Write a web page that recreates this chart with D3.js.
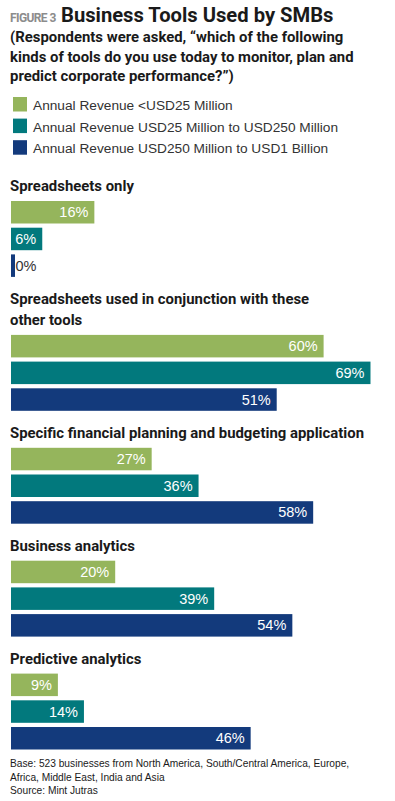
<!DOCTYPE html>
<html>
<head>
<meta charset="utf-8">
<script src="https://cdn.jsdelivr.net/npm/d3@7"></script>
<style>
  body { margin: 0; background: #fff; }
  svg { display: block; }
</style>
</head>
<body>
<div id="chart"></div>
<script>
// data
const categories = [
    ['Spreadsheets only'],
    ['Spreadsheets used in conjunction with these', 'other tools'],
    ['Specific financial planning and budgeting application'],
    ['Business analytics'],
    ['Predictive analytics']
];
const series = [
    'Annual Revenue <USD25 Million',
    'Annual Revenue USD25 Million to USD250 Million',
    'Annual Revenue USD250 Million to USD1 Billion'
];
const small = [16, 60, 27, 20, 9];
const mid = [6, 69, 36, 39, 14];
const large = [0, 51, 58, 54, 46];
const colors = ['#95b55c', '#02797d', '#133a7c'];
const notes = [
    'Base: 523 businesses from North America, South/Central America, Europe,',
    'Africa, Middle East, India and Asia',
    'Source: Mint Jutras'
];

const width = 395, height = 801;
const x0 = 11;
const bar_h = 22.5;
const bar_step = 26.7;
const line_h = 21;
const head_font = "Roboto, 'Liberation Sans', sans-serif";
const body_font = "'Liberation Sans', Arial, sans-serif";

const svg = d3.select('#chart').append('svg')
    .attr('width', width)
    .attr('height', height);

const x = d3.scaleLinear().domain([0, 100]).range([0, 521]);

// header
svg.append('text').text('FIGURE 3')
    .attr('x', 10).attr('y', 22)
    .style('font-family', head_font).style('font-weight', 700)
    .style('font-size', '12px').style('letter-spacing', '-0.6px')
    .attr('fill', '#8c8c8c');
svg.append('text').text('Business Tools Used by SMBs')
    .attr('x', 61).attr('y', 22)
    .style('font-family', head_font).style('font-weight', 700)
    .style('font-size', '20.2px').attr('fill', '#1a1a1a');

const subtitle = [
    '(Respondents were asked, \u201cwhich of the following',
    'kinds of tools do you use today to monitor, plan and',
    'predict corporate performance?\u201d)'
];
subtitle.forEach((s, i) => {
    svg.append('text').text(s)
        .attr('x', 10).attr('y', 42 + i * 19.5)
        .style('font-family', head_font).style('font-weight', 700)
        .style('font-size', '14.9px').attr('fill', '#1a1a1a');
});

// legend
const legend = svg.append('g').attr('transform', 'translate(13, 97)');
series.forEach((s, i) => {
    legend.append('rect')
        .attr('x', 0).attr('y', i * 21.6)
        .attr('width', 14).attr('height', 14.5)
        .attr('fill', colors[i]);
    legend.append('text').text(s)
        .attr('x', 20).attr('y', i * 21.6 + 13)
        .style('font-family', body_font).style('font-size', '13.7px')
        .attr('fill', '#333');
});

// groups
const values = [small, mid, large];
let cursor = 191;
categories.forEach((lines, gi) => {
    lines.forEach((l, li) => {
        svg.append('text').text(l)
            .attr('x', 10).attr('y', cursor + li * line_h)
            .style('font-family', head_font).style('font-weight', 700)
            .style('font-size', '14.9px').attr('fill', '#1a1a1a');
    });
    const top = cursor + (lines.length - 1) * line_h + 10;
    const g = svg.append('g').attr('transform', `translate(${x0}, ${top})`);

    values.forEach((vals, si) => {
        const v = vals[gi];
        const w = Math.max(x(v), 4);
        const y = si * bar_step;
        g.append('rect')
            .attr('x', 0).attr('y', y)
            .attr('width', w).attr('height', bar_h)
            .attr('fill', colors[si]);
        const inside = w > 30;
        g.append('text').text(v + '%')
            .attr('x', inside ? w - 6 : w + 0.5)
            .attr('y', y + bar_h / 2 + 5)
            .attr('text-anchor', inside ? 'end' : 'start')
            .style('font-family', body_font).style('font-size', '14.5px')
            .attr('fill', inside ? '#fff' : '#333');
    });
    cursor = top + 2 * bar_step + bar_h + 27;
});

// footnotes
notes.forEach((n, i) => {
    svg.append('text').text(n)
        .attr('x', 10).attr('y', 767 + i * 13.6)
        .style('font-family', body_font).style('font-size', '10.2px')
        .attr('fill', '#1a1a1a');
});
</script>
</body>
</html>
